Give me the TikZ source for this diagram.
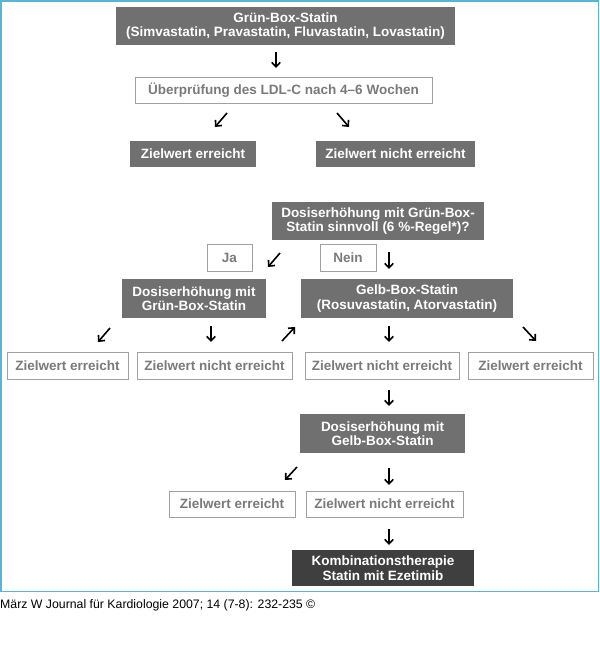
\documentclass[tikz,border=0pt]{standalone}
\usepackage{fontspec}
\setmainfont{Liberation Sans}
\usetikzlibrary{arrows.meta}
\definecolor{boxdark}{HTML}{707070}
\definecolor{boxdarker}{HTML}{3F3F3F}
\definecolor{txtgray}{HTML}{7A7A7A}
\definecolor{lineray}{HTML}{A0A0A0}
\definecolor{framebl}{HTML}{5AB4D6}
\tikzset{
  dbox/.style={fill=boxdark, draw=none, text=white, inner sep=0pt, align=center,
    font=\fontsize{13.5}{14.5}\selectfont\bfseries},
  ddbox/.style={dbox, fill=boxdarker},
  wbox/.style={fill=white, draw=lineray, line width=1pt, text=txtgray, inner sep=0pt, align=center,
    font=\fontsize{13.5}{14.5}\selectfont\bfseries},
  arr/.style={line width=1.6pt, -{Straight Barb[length=4.5pt,width=8.5pt,line width=1.6pt]}},
}
\begin{document}
\begin{tikzpicture}[x=1pt,y=-1pt]
\useasboundingbox (0,0) rectangle (600,654);
\fill[white] (0,0) rectangle (600,654);
\draw[framebl, line width=1.5pt] (0.75,0.75) rectangle (598.5,591.5);
% boxes
\node[dbox, minimum width=339pt, minimum height=38pt] (b1) at (285.5,26) {Grün-Box-Statin\\(Simvastatin, Pravastatin, Fluvastatin, Lovastatin)};
\node[wbox, minimum width=297pt, minimum height=26pt] (b2) at (283.5,90) {Überprüfung des LDL-C nach 4–6 Wochen};
\node[dbox, minimum width=126pt, minimum height=26pt] (b3) at (193,154) {Zielwert erreicht};
\node[dbox, minimum width=159pt, minimum height=26pt] (b4) at (395.5,154) {Zielwert nicht erreicht};
\node[dbox, minimum width=212pt, minimum height=38pt] (b5) at (378,221) {Dosiserhöhung mit Grün-Box-\\Statin sinnvoll (6 \%-Regel*)?};
\node[wbox, minimum width=45pt, minimum height=27pt] (ja) at (229.5,257.5) {Ja};
\node[wbox, minimum width=56pt, minimum height=27pt] (nein) at (348,257.5) {Nein};
\node[dbox, minimum width=144pt, minimum height=39pt] (b6) at (194,298.5) {Dosiserhöhung mit\\Grün-Box-Statin};
\node[dbox, minimum width=212pt, minimum height=39pt] (b7) at (407,298.5) {Gelb-Box-Statin\\(Rosuvastatin, Atorvastatin)};
\node[wbox, minimum width=121pt, minimum height=27pt] (w1) at (67.5,365.5) {Zielwert erreicht};
\node[wbox, minimum width=155pt, minimum height=27pt] (w2) at (214.5,365.5) {Zielwert nicht erreicht};
\node[wbox, minimum width=154pt, minimum height=27pt] (w3) at (382,365.5) {Zielwert nicht erreicht};
\node[wbox, minimum width=125pt, minimum height=27pt] (w4) at (530.5,365.5) {Zielwert erreicht};
\node[dbox, minimum width=165pt, minimum height=39pt] (b8) at (382.5,433.5) {Dosiserhöhung mit\\Gelb-Box-Statin};
\node[wbox, minimum width=126pt, minimum height=26pt] (w5) at (232,504) {Zielwert erreicht};
\node[wbox, minimum width=157pt, minimum height=26pt] (w6) at (384.5,504) {Zielwert nicht erreicht};
\node[ddbox, minimum width=182pt, minimum height=36pt] (b9) at (383,568) {Kombinationstherapie\\Statin mit Ezetimib};
\node[anchor=base west, inner sep=0pt, font=\fontsize{12.3}{14}\selectfont] (cap) at (0,608.5) {März W Journal für Kardiologie 2007; 14 (7-8): 232-235 ©};
% arrow end points
\coordinate (a1s) at (276,52);  \coordinate (a1e) at (276,68);
\coordinate (a2s) at (227,113); \coordinate (a2e) at (215,127);
\coordinate (a3s) at (337,113); \coordinate (a3e) at (349,127);
\coordinate (a4s) at (280,253); \coordinate (a4e) at (268,267);
\coordinate (a5s) at (389,252); \coordinate (a5e) at (389,269);
\coordinate (a6s) at (110,328); \coordinate (a6e) at (98,342);
\coordinate (a7s) at (211,326); \coordinate (a7e) at (211,342);
\coordinate (a8s) at (282,341); \coordinate (a8e) at (295,327);
\coordinate (a9s) at (389,326); \coordinate (a9e) at (389,342);
\coordinate (a10s) at (523,327); \coordinate (a10e) at (536,341);
\coordinate (a11s) at (389,390); \coordinate (a11e) at (389,406);
\coordinate (a12s) at (297,467); \coordinate (a12e) at (285,480);
\coordinate (a13s) at (389,468); \coordinate (a13e) at (389,485);
\coordinate (a14s) at (389,529); \coordinate (a14e) at (389,545);
\foreach \i in {1,...,14} { \draw[arr] (a\i s) -- (a\i e); }
\end{tikzpicture}
\end{document}
